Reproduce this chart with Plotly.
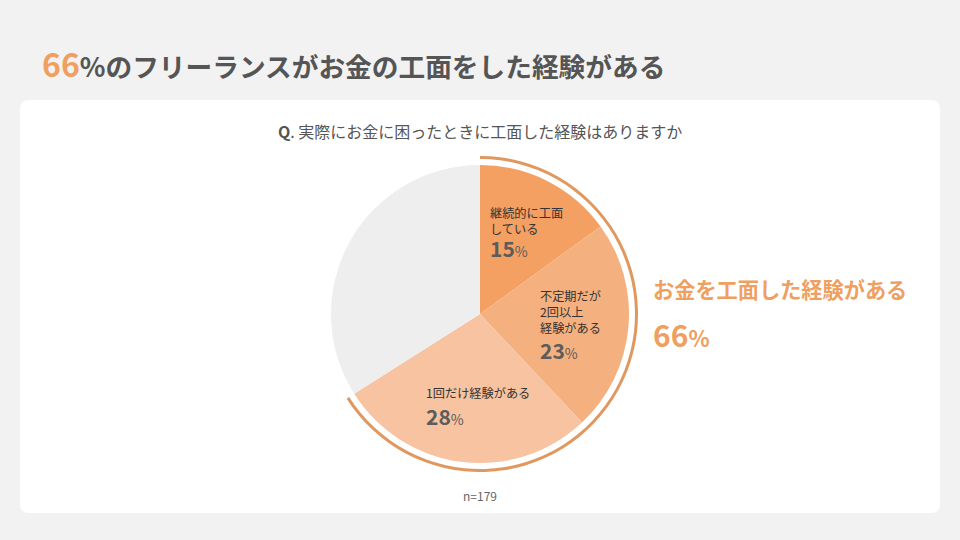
import plotly.graph_objects as go

# ---------------------------------------------------------------
#  DATA
# ---------------------------------------------------------------
categories   = ['継続的に工面している', '不定期だが2回以上経験がある', '1回だけ経験がある', 'その他']
values       = [15, 23, 28, 34]
label_lines  = ['継続的に工面<br>している', '不定期だが<br>2回以上<br>経験がある', '1回だけ経験がある']
total_label  = 'お金を工面した経験がある'
total_value  = sum(values[:3])
sample_size  = 179
question     = '実際にお金に困ったときに工面した経験はありますか'

slice_colors = ['#f4a062', '#f5b07f', '#f7c3a0', '#eeeeee']
ring_color   = '#e0985f'
accent       = '#ef9f5f'
font_family  = 'Noto Sans CJK JP, Noto Sans, sans-serif'

W, H = 960, 540

def px(x):  return x / W
def py(y):  return 1 - y / H

# pie geometry (pixels)
cx, cy, r_pie, r_ring = 480, 314, 149, 158

fig = go.Figure()

# main pie
fig.add_trace(go.Pie(
    labels=categories, values=values, sort=False, direction='clockwise', rotation=0,
    marker=dict(colors=slice_colors, line=dict(width=0)),
    textinfo='none', hoverinfo='label+percent', showlegend=False,
    domain=dict(x=[px(cx - r_pie), px(cx + r_pie)], y=[py(cy + r_pie), py(cy - r_pie)]),
))

# outer ring marking the "experienced" share
fig.add_trace(go.Pie(
    labels=[total_label, ''], values=[total_value, 100 - total_value], sort=False,
    direction='clockwise', rotation=0, hole=(r_ring - 3) / r_ring,
    marker=dict(colors=[ring_color, 'rgba(0,0,0,0)'], line=dict(width=0)),
    textinfo='none', hoverinfo='skip', showlegend=False,
    domain=dict(x=[px(cx - r_ring), px(cx + r_ring)], y=[py(cy + r_ring), py(cy - r_ring)]),
))

# ---------------------------------------------------------------
#  CARD BACKGROUND
# ---------------------------------------------------------------
x0, y0, x1, y1, rr = 20, 100, 940, 513, 9
card = (f'M {x0+rr},{y0} L {x1-rr},{y0} Q {x1},{y0} {x1},{y0+rr} '
        f'L {x1},{y1-rr} Q {x1},{y1} {x1-rr},{y1} L {x0+rr},{y1} '
        f'Q {x0},{y1} {x0},{y1-rr} L {x0},{y0+rr} Q {x0},{y0} {x0+rr},{y0} Z')
fig.add_shape(type='path', path=card, xref='x', yref='y',
              fillcolor='white', line=dict(width=0), layer='below')

# ---------------------------------------------------------------
#  TEXT
# ---------------------------------------------------------------
ann = []
ann.append(dict(x=px(40), y=py(63), xanchor='left', yanchor='middle',
                text=(f"<b><span style='color:{accent};font-size:32px'>{total_value}</span>"
                      f"%のフリーランスがお金の工面をした経験がある</b>"),
                font=dict(size=26.7, color='#555555')))
ann.append(dict(x=px(480), y=py(131), xanchor='center', yanchor='middle',
                text=f'<b>Q</b>. {question}', font=dict(size=16, color='#555555')))

# slice labels: (x, y of first text line, y of percent)
label_pos = [(490, 213, 248), (540, 296, 350), (426, 393, 416)]
for txt, v, (lx, ly, vy) in zip(label_lines, values, label_pos):
    ann.append(dict(x=px(lx - 2), y=py(ly - 11), xanchor='left', yanchor='top', align='left',
                    text=txt, font=dict(size=12.2, color='#333333')))
    ann.append(dict(x=px(lx - 2), y=py(vy), xanchor='left', yanchor='middle',
                    text=f"<b>{v}</b><span style='font-size:14px'>%</span>",
                    font=dict(size=21, color='#5c5c5c')))

ann.append(dict(x=px(651), y=py(288), xanchor='left', yanchor='middle',
                text=f'<b>{total_label}</b>', font=dict(size=21.2, color=accent)))
ann.append(dict(x=px(651), y=py(334), xanchor='left', yanchor='middle',
                text=f"<b>{total_value}</b><span style='font-size:22px'><b>%</b></span>",
                font=dict(size=30, color=accent)))
ann.append(dict(x=px(480), y=py(495), xanchor='center', yanchor='middle',
                text=f'n={sample_size}', font=dict(size=12, color='#666666')))

for a in ann:
    a.update(xref='paper', yref='paper', showarrow=False)

fig.update_layout(
    width=W, height=H,
    margin=dict(l=0, r=0, t=0, b=0),
    paper_bgcolor='#f2f2f2', plot_bgcolor='rgba(0,0,0,0)',
    font=dict(family=font_family),
    xaxis=dict(range=[0, W], visible=False, fixedrange=True),
    yaxis=dict(range=[H, 0], visible=False, fixedrange=True),
    annotations=ann,
    showlegend=False,
)

# the page body has a default margin; drop it so the chart fills the window
fig.write_html('out.html', config={'displayModeBar': False},
               post_script="document.body.style.margin='0';")
